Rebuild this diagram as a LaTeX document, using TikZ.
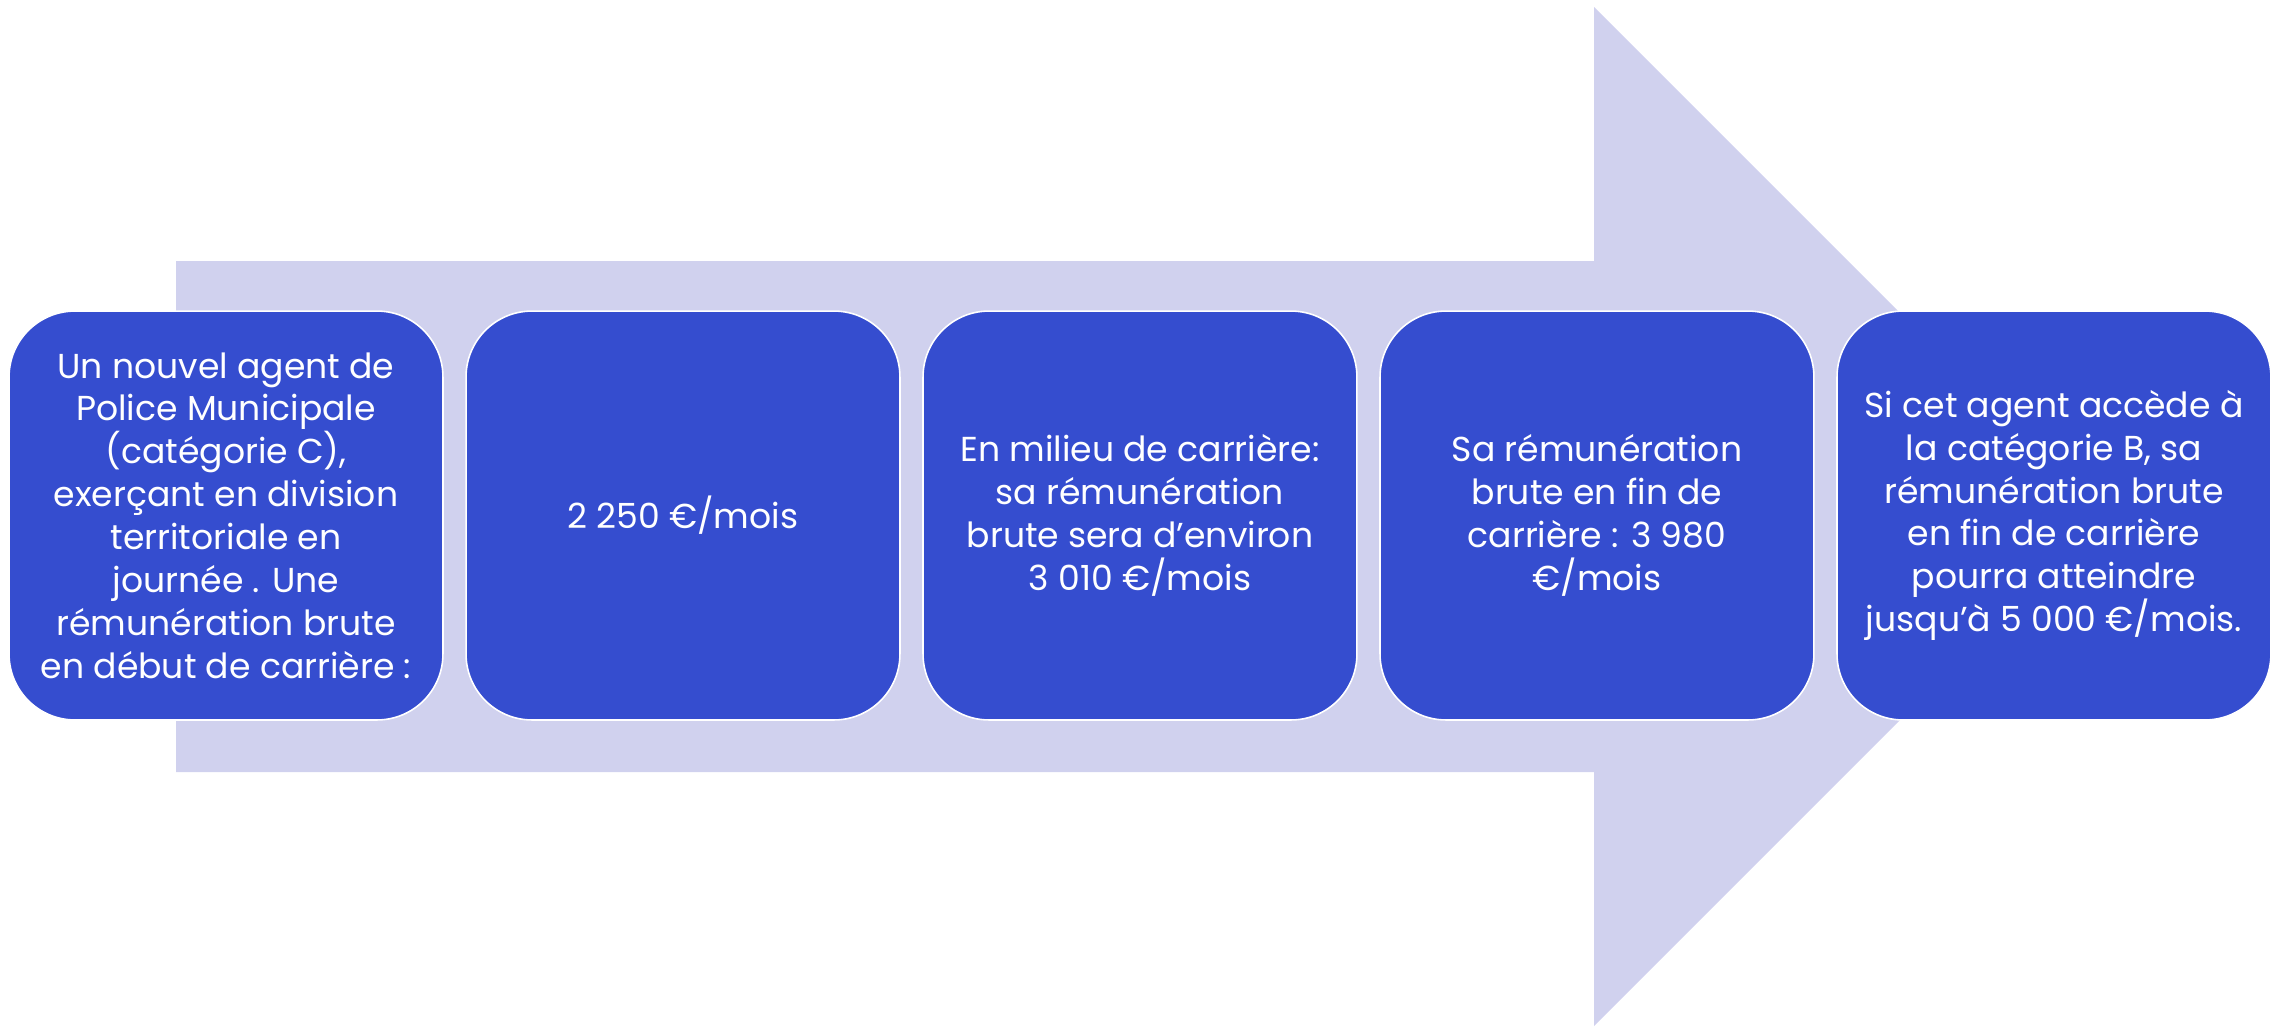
\documentclass[tikz,border=0pt]{standalone}
\usepackage{fontspec}
\setmainfont{Poppins}
\usetikzlibrary{positioning}

\definecolor{boxblue}{HTML}{354DCF}
\definecolor{arrowlilac}{HTML}{D0D1EE}

\begin{document}
\begin{tikzpicture}[
  x=0.02cm, y=-0.02cm,
  roundbox/.style={%
    rectangle,%
    rounded corners=1.32cm,%
    fill=boxblue,%
    draw=white,%
    %draw=black,
    line width=0.9pt,%
    text=white,%
    align=center,%
    inner sep=0pt,%
    minimum width=8.68cm,%
    minimum height=8.18cm,%
    font=\fontsize{19.7}{24.4}\selectfont%
  },
  node distance=0.43cm
]

  \useasboundingbox (0,0) rectangle (2287,1028);

  % big arrow behind the boxes
  \fill[arrowlilac] (176,261) -- (1594,261) -- (1594,7) -- (2103.5,516.5)
    -- (1594,1026) -- (1594,772) -- (176,772) -- cycle;

  \node [roundbox] (b1) at (226,515.5) {Un nouvel agent de\\Police Municipale\\(catégorie C),\\exerçant en division\\territoriale en\\journée . Une\\rémunération brute\\en début de carrière :};
  \node [roundbox, right=of b1] (b2) {2 250 €/mois};
  \node [roundbox, right=of b2] (b3) {En milieu de carrière:\\sa rémunération\\brute sera d’environ\\3 010 €/mois};
  \node [roundbox, right=of b3] (b4) {Sa rémunération\\brute en fin de\\carrière : 3 980\\€/mois};
  \node [roundbox, right=of b4] (b5) {Si cet agent accède à\\la catégorie B, sa\\rémunération brute\\en fin de carrière\\pourra atteindre\\jusqu’à 5 000 €/mois.};

\end{tikzpicture}
\end{document}
